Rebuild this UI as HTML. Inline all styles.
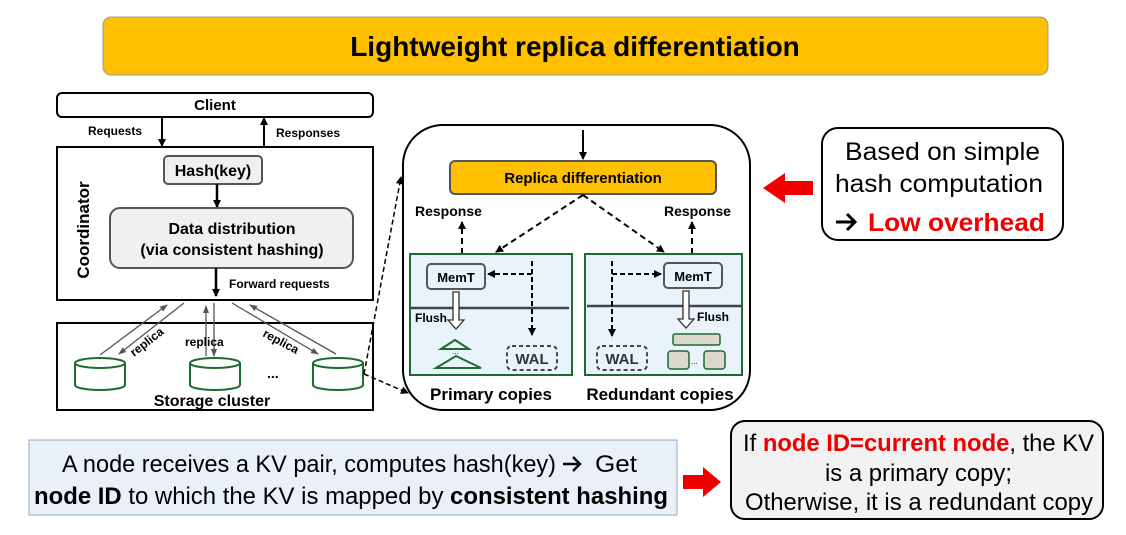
<!DOCTYPE html>
<html><head><meta charset="utf-8"><style>
html,body{margin:0;padding:0;background:#fff;}
svg{display:block;font-family:"Liberation Sans",sans-serif;}
</style></head><body>
<svg width="1126" height="535" viewBox="0 0 1126 535" xmlns="http://www.w3.org/2000/svg">
<defs>
<marker id="ah" markerWidth="8" markerHeight="8" refX="7" refY="4" orient="auto" markerUnits="userSpaceOnUse"><path d="M0,0 L8,4 L0,8 z" fill="#000"/></marker>
<marker id="ag" markerWidth="8" markerHeight="8" refX="7" refY="4" orient="auto" markerUnits="userSpaceOnUse"><path d="M0,1 L8,4 L0,7 z" fill="#555"/></marker>
</defs>
<rect x="103" y="17" width="945" height="58" rx="8" fill="#ffc000" stroke="#999" stroke-width="1"/>
<text x="575" y="56" font-size="28" font-weight="bold" text-anchor="middle">Lightweight replica differentiation</text>

<rect x="57" y="93" width="316" height="24" rx="5" fill="#fff" stroke="#000" stroke-width="2"/>
<text x="215" y="110" font-size="15" font-weight="bold" text-anchor="middle">Client</text>
<line x1="162" y1="117" x2="162" y2="146" stroke="#000" stroke-width="2" marker-end="url(#ah)"/>
<line x1="264" y1="147" x2="264" y2="118" stroke="#000" stroke-width="2" marker-end="url(#ah)"/>
<text x="88" y="135" font-size="12" font-weight="bold">Requests</text>
<text x="276" y="137" font-size="12" font-weight="bold">Responses</text>

<rect x="57" y="147" width="316" height="153" fill="#fff" stroke="#000" stroke-width="2"/>
<text transform="translate(89,230) rotate(-90)" font-size="17" font-weight="bold" text-anchor="middle">Coordinator</text>
<rect x="164" y="156" width="98" height="28" rx="4" fill="#f0f0f0" stroke="#555" stroke-width="2"/>
<text x="213" y="176" font-size="16" font-weight="bold" text-anchor="middle">Hash(key)</text>
<line x1="217" y1="184" x2="217" y2="207" stroke="#000" stroke-width="2.5" marker-end="url(#ah)"/>
<rect x="110" y="208" width="243" height="60" rx="10" fill="#f0f0f0" stroke="#555" stroke-width="2"/>
<text x="232" y="234" font-size="16" font-weight="bold" text-anchor="middle">Data distribution</text>
<text x="232" y="255" font-size="16" font-weight="bold" text-anchor="middle">(via consistent hashing)</text>
<line x1="216" y1="268" x2="216" y2="296" stroke="#000" stroke-width="2.5" marker-end="url(#ah)"/>
<text x="229" y="288" font-size="12" font-weight="bold">Forward requests</text>

<rect x="57" y="323" width="316" height="87" fill="#fff" stroke="#000" stroke-width="2"/>
<g stroke="#555" stroke-width="1.3" fill="none">
<line x1="100" y1="355" x2="167" y2="305" marker-end="url(#ag)"/>
<line x1="184" y1="303" x2="119" y2="354" marker-end="url(#ag)"/>
<line x1="206" y1="356" x2="206" y2="306" marker-end="url(#ag)"/>
<line x1="214" y1="303" x2="214" y2="356" marker-end="url(#ag)"/>
<line x1="336" y1="354" x2="250" y2="305" marker-end="url(#ag)"/>
<line x1="232" y1="303" x2="318" y2="354" marker-end="url(#ag)"/>
</g>
<text transform="translate(134,357) rotate(-38)" font-size="12" font-weight="bold">replica</text>
<text x="185" y="346" font-size="12" font-weight="bold">replica</text>
<text transform="translate(262,336) rotate(28)" font-size="12" font-weight="bold">replica</text>
<g fill="#fff" stroke="#1e6b2e" stroke-width="2">
<path d="M75,363 v22 a25,5 0 0 0 50,0 v-22"/><ellipse cx="100" cy="363" rx="25" ry="5"/>
<path d="M190,363 v22 a25,5 0 0 0 50,0 v-22"/><ellipse cx="215" cy="363" rx="25" ry="5"/>
<path d="M313,363 v22 a25,5 0 0 0 50,0 v-22"/><ellipse cx="338" cy="363" rx="25" ry="5"/>
</g>
<text x="267" y="378" font-size="14" font-weight="bold">...</text>
<text x="212" y="406" font-size="16" font-weight="bold" text-anchor="middle">Storage cluster</text>
<g stroke="#000" stroke-width="1.5" stroke-dasharray="5,3" fill="none">
<line x1="364" y1="374" x2="401" y2="177" marker-end="url(#ah)"/>
<line x1="364" y1="374" x2="408" y2="393" marker-end="url(#ah)"/>
</g>

<rect x="403" y="125" width="347" height="285" rx="40" fill="#fff" stroke="#000" stroke-width="2"/>
<line x1="583" y1="130" x2="583" y2="159" stroke="#000" stroke-width="2" marker-end="url(#ah)"/>
<rect x="450" y="161" width="266" height="33" rx="5" fill="#ffc000" stroke="#555" stroke-width="2"/>
<text x="583" y="183" font-size="15" font-weight="bold" text-anchor="middle">Replica differentiation</text>
<text x="415" y="216" font-size="14" font-weight="bold">Response</text>
<text x="664" y="216" font-size="14" font-weight="bold">Response</text>
<g stroke="#000" stroke-width="2" stroke-dasharray="6,4" fill="none">
<line x1="583" y1="195" x2="496" y2="252" marker-end="url(#ah)"/>
<line x1="583" y1="195" x2="664" y2="252" marker-end="url(#ah)"/>
<line x1="462" y1="254" x2="462" y2="222" marker-end="url(#ah)"/>
<line x1="692" y1="254" x2="692" y2="222" marker-end="url(#ah)"/>
</g>
<rect x="410" y="254" width="162" height="121" fill="#e8f3fb" stroke="#1e6b2e" stroke-width="2"/>
<rect x="585" y="254" width="157" height="121" fill="#e8f3fb" stroke="#1e6b2e" stroke-width="2"/>
<line x1="410" y1="308" x2="569" y2="308" stroke="#444" stroke-width="2.5"/>
<line x1="587" y1="306" x2="742" y2="306" stroke="#444" stroke-width="2.5"/>
<rect x="427" y="264" width="58" height="25" rx="4" fill="#e8f3fb" stroke="#555" stroke-width="2"/>
<text x="456" y="282" font-size="13" font-weight="bold" text-anchor="middle">MemT</text>
<rect x="664" y="263" width="58" height="25" rx="4" fill="#e8f3fb" stroke="#555" stroke-width="2"/>
<text x="693" y="281" font-size="13" font-weight="bold" text-anchor="middle">MemT</text>
<g stroke="#000" stroke-width="2" stroke-dasharray="5,3" fill="none">
<line x1="532" y1="261" x2="532" y2="335" marker-end="url(#ah)"/>
<line x1="532" y1="274" x2="488" y2="274" marker-end="url(#ah)"/>
<line x1="612" y1="261" x2="612" y2="336" marker-end="url(#ah)"/>
<line x1="612" y1="274" x2="661" y2="274" marker-end="url(#ah)"/>
</g>
<path d="M453,292 h6 v28 h5 l-8,9 l-8,-9 h5 z" fill="#fff" stroke="#333" stroke-width="1.3"/>
<path d="M683,291 h6 v28 h5 l-8,9 l-8,-9 h5 z" fill="#fff" stroke="#333" stroke-width="1.3"/>
<text x="415" y="322" font-size="12" font-weight="bold">Flush</text>
<text x="697" y="321" font-size="12" font-weight="bold">Flush</text>
<path d="M441,349 L455,340 L469,349 z" fill="none" stroke="#1e6b2e" stroke-width="2"/>
<path d="M436,368 L456,356 L481,368 z" fill="none" stroke="#1e6b2e" stroke-width="2"/>
<text x="452" y="354" font-size="8">...</text>
<rect x="507" y="346" width="50" height="24" rx="5" fill="none" stroke="#444" stroke-width="2" stroke-dasharray="4,3"/>
<text x="532" y="364" font-size="15" font-weight="bold" text-anchor="middle" fill="#333">WAL</text>
<rect x="597" y="346" width="50" height="24" rx="5" fill="none" stroke="#444" stroke-width="2" stroke-dasharray="4,3"/>
<text x="622" y="364" font-size="15" font-weight="bold" text-anchor="middle" fill="#333">WAL</text>
<rect x="673" y="334" width="47" height="11" rx="2" fill="#ddd8cc" stroke="#1e6b2e" stroke-width="1.5"/>
<rect x="668" y="351" width="21" height="18" rx="3" fill="#ddd8cc" stroke="#1e6b2e" stroke-width="1.5"/>
<rect x="704" y="351" width="21" height="18" rx="3" fill="#ddd8cc" stroke="#1e6b2e" stroke-width="1.5"/>
<text x="691" y="364" font-size="8">...</text>
<text x="491" y="400" font-size="17" font-weight="bold" text-anchor="middle">Primary copies</text>
<text x="660" y="400" font-size="17" font-weight="bold" text-anchor="middle">Redundant copies</text>

<path d="M813,181 h-28 v-8 l-22,15 l22,15 v-8 h28 z" fill="#ee0000"/>
<path d="M683,475 h20 v-8 l18,15 l-18,15 v-8 h-20 z" fill="#ee0000"/>

<rect x="822" y="128" width="241" height="112" rx="16" fill="#fff" stroke="#000" stroke-width="2"/>
<text x="845" y="160" font-size="25" textLength="195" lengthAdjust="spacingAndGlyphs">Based on simple</text>
<text x="835" y="192" font-size="25" textLength="208" lengthAdjust="spacingAndGlyphs">hash computation</text>
<path d="M836,222 h18 M847,214 l8,8 l-8,8" stroke="#000" stroke-width="3" fill="none"/>
<text x="868" y="231" font-size="25" fill="#ee0000" font-weight="bold" textLength="177" lengthAdjust="spacingAndGlyphs">Low overhead</text>

<rect x="29" y="440" width="648" height="75" fill="#eaf0f7" stroke="#8eaacc" stroke-width="1"/>
<text x="62" y="472" font-size="24" textLength="494" lengthAdjust="spacingAndGlyphs">A node receives a KV pair, computes hash(key)</text>
<path d="M563,464 h17 M573,457 l7,7 l-7,7" stroke="#000" stroke-width="2.4" fill="none"/>
<text x="595" y="472" font-size="24" textLength="42" lengthAdjust="spacingAndGlyphs">Get</text>
<text x="34" y="504" font-size="24" textLength="634" lengthAdjust="spacingAndGlyphs"><tspan font-weight="bold">node ID</tspan> to which the KV is mapped by <tspan font-weight="bold">consistent hashing</tspan></text>

<rect x="731" y="421" width="372" height="98" rx="14" fill="#f2f2f2" stroke="#000" stroke-width="2"/>
<text x="743" y="451" font-size="24" textLength="351" lengthAdjust="spacingAndGlyphs">If <tspan fill="#ee0000" font-weight="bold">node ID=current node</tspan>, the KV</text>
<text x="825" y="481" font-size="24" textLength="187" lengthAdjust="spacingAndGlyphs">is a primary copy;</text>
<text x="745" y="510" font-size="24" textLength="348" lengthAdjust="spacingAndGlyphs">Otherwise, it is a redundant copy</text>
</svg>
</body></html>
